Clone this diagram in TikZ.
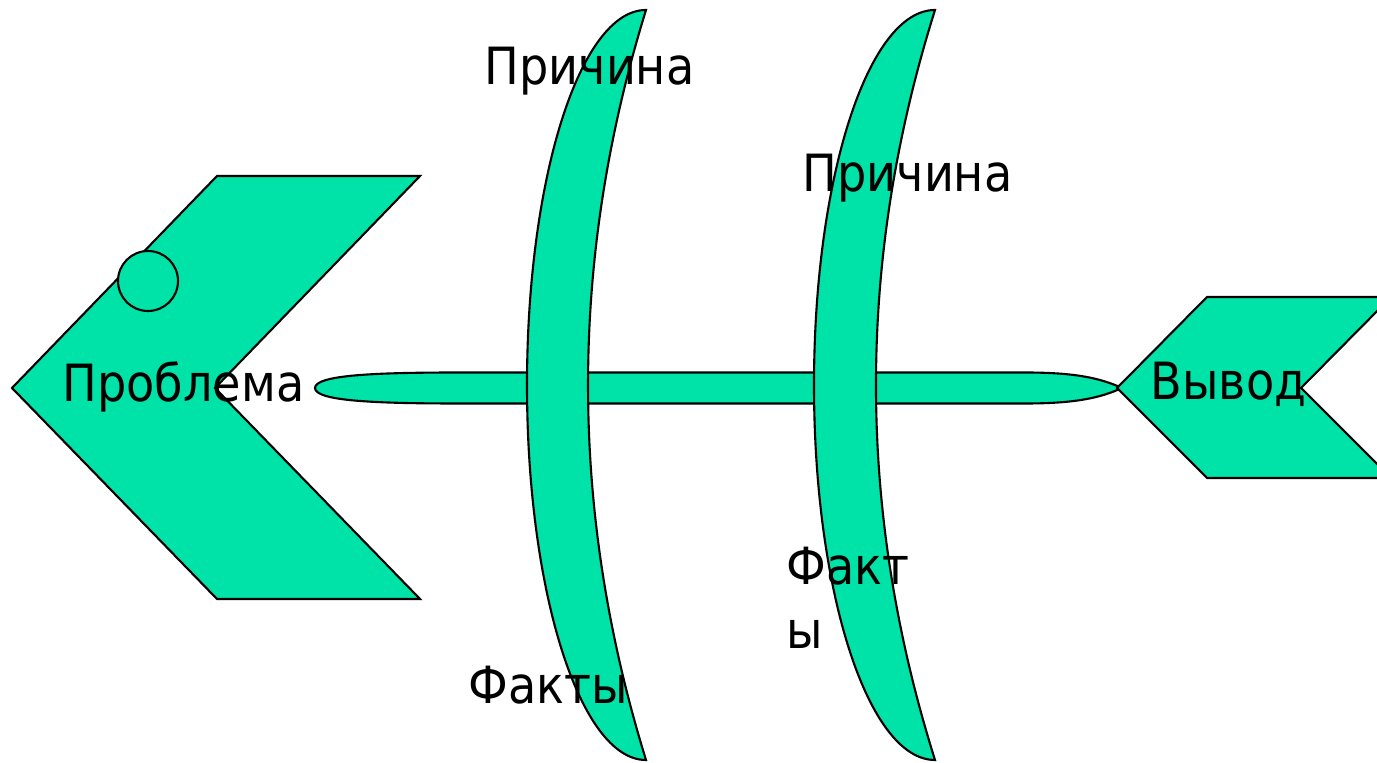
\documentclass[tikz,border=0pt]{standalone}
\usepackage{fontspec}
\setmainfont{DejaVu Sans Condensed}
\usetikzlibrary{positioning}
\definecolor{fishgreen}{RGB}{0,227,168}

\begin{document}
\begin{tikzpicture}[x=1cm,y=1cm,
    bone/.style={fill=fishgreen,draw=black,line width=0.6pt},
    lbl/.style={anchor=base west,inner sep=0pt,font=\fontsize{14.6pt}{18pt}\selectfont}]
  \useasboundingbox (0,0) rectangle (13.77,7.62);
  \begin{scope}
    \clip (0,0) rectangle (13.77,7.62);
    % Spine
    \draw[bone] (3.15,3.74) .. controls (3.15,3.87) and (3.75,3.895) .. (4.60,3.895)
      -- (10.25,3.895) .. controls (10.75,3.895) and (11.0,3.84) .. (11.22,3.74)
      .. controls (11.0,3.64) and (10.75,3.585) .. (10.25,3.585)
      -- (4.60,3.585) .. controls (3.75,3.585) and (3.15,3.61) .. cycle;
    % Ribs
    \foreach \x/\ro/\ri in {6.46/1.19/0.773, 9.35/1.21/0.787}
      \draw[bone] (\x,7.52) arc[start angle=90,end angle=270,x radius=\ro,y radius=3.75]
        .. controls (\x-\ri,2.52) and (\x-\ri,5.02) .. cycle;
    % Head
    \draw[bone] (0.12,3.74) -- (2.17,5.86) -- (4.20,5.86) -- (2.15,3.74)
      -- (4.20,1.63) -- (2.17,1.63) -- cycle;
    \draw[bone] (1.48,4.81) circle[radius=0.30];
    % Tail
    \draw[bone] (11.17,3.74) -- (12.07,4.65) -- (13.91,4.65) -- (13.01,3.74)
      -- (13.91,2.84) -- (12.07,2.84) -- cycle;
  \end{scope}
  % Labels
  \node[lbl] (problem) at (0.62,3.60) {Проблема};
  \node[lbl] (cause1) at (4.84,6.77) {Причина};
  \node[lbl] (cause2) at (8.02,5.70) {Причина};
  \node[lbl] (result) at (11.50,3.62) {Вывод};
  \node[lbl] (facts1) at (4.68,0.59) {Факты};
  \node[lbl] (facts2a) at (7.86,1.77) {Факт};
  \node[lbl] (facts2b) at (7.86,1.13) {ы};
\end{tikzpicture}
\end{document}
